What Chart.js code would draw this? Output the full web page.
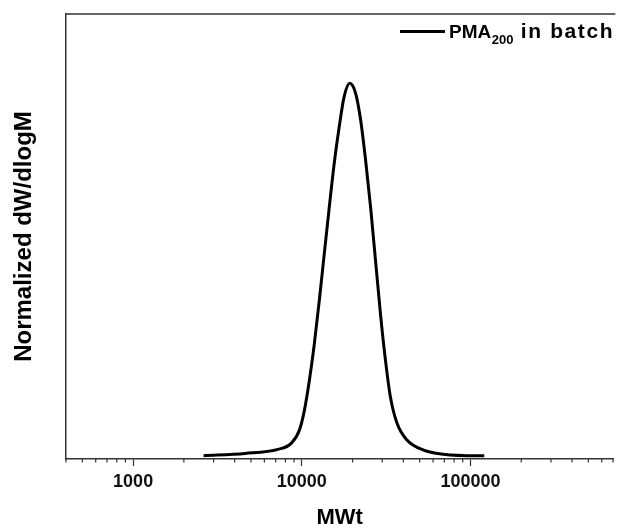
<!DOCTYPE html>
<html>
<head>
<meta charset="utf-8">
<script src="https://cdn.jsdelivr.net/npm/chart.js@4.4.1/dist/chart.umd.min.js"></script>
<style>
	html, body { margin: 0; padding: 0; background: #fff; overflow: hidden; }
	#wrap { width: 618px; height: 528px; }
</style>
</head>
<body>
<div id="wrap"><canvas id="chart"></canvas></div>
<script>
// molecular weight (x) and normalized dW/dlogM (y)
const mwt = [2617, 4603, 7228, 8652, 9688, 10376, 11100, 11880, 12710, 13600, 14560, 15570, 16670, 17830, 19230, 20850, 22320, 23890, 25570, 27360, 29270, 31320, 33510, 36700, 42030, 52760, 69070, 108400, 120700];
const dwdlogm = [0.000, 0.006, 0.017, 0.033, 0.069, 0.123, 0.203, 0.302, 0.418, 0.543, 0.668, 0.785, 0.883, 0.964, 1.000, 0.973, 0.902, 0.794, 0.668, 0.524, 0.381, 0.257, 0.158, 0.087, 0.042, 0.015, 0.004, 0.000, 0.000];

const majorTicks = [1000, 10000, 100000];
const minorTicks = [400, 500, 600, 700, 800, 900, 2000, 3000, 4000, 5000, 6000, 7000, 8000, 9000, 20000, 30000, 40000, 50000, 60000, 70000, 80000, 90000, 200000, 300000, 400000, 500000, 600000, 700000];

const legendMain = "PMA";
const legendSub = "200";
const legendRest = " in batch";
const xTitle = "MWt";
const yTitle = "Normalized dW/dlogM";

const frameColor = "#333";
const fontFamily = "'Liberation Sans', Arial, sans-serif";

// top frame line, short minor ticks and the legend
const extras = {
	id: "extras",
	afterDraw(chart) {
		const { ctx, chartArea, scales } = chart;
		ctx.save();
		ctx.strokeStyle = frameColor;
		ctx.lineWidth = 1.5;
		ctx.beginPath();
		ctx.moveTo(chartArea.left - 0.75, chartArea.top);
		ctx.lineTo(chartArea.right + 2, chartArea.top);
		ctx.stroke();

		ctx.lineWidth = 1.2;
		const y0 = scales.x.top;
		minorTicks.forEach((v) => {
			const x = scales.x.getPixelForValue(v);
			ctx.beginPath();
			ctx.moveTo(x, y0);
			ctx.lineTo(x, y0 + 3.5);
			ctx.stroke();
		});

		// legend
		ctx.strokeStyle = "#000";
		ctx.lineWidth = 3;
		ctx.beginPath();
		ctx.moveTo(400, 31.5);
		ctx.lineTo(445, 31.5);
		ctx.stroke();

		ctx.fillStyle = "#000";
		ctx.textBaseline = "alphabetic";
		ctx.textAlign = "left";
		ctx.font = "bold 19px " + fontFamily;
		ctx.fillText(legendMain, 449, 37.5);
		let x = 449 + ctx.measureText(legendMain).width;
		ctx.font = "bold 13px " + fontFamily;
		ctx.fillText(legendSub, x + 0.5, 43.5);
		x += ctx.measureText(legendSub).width + 0.5;
		ctx.font = "bold 21px " + fontFamily;
		ctx.letterSpacing = "1.6px";
		ctx.fillText(legendRest, x, 37.5);
		ctx.restore();
	},
};

new Chart(document.getElementById("chart"), {
	type: "line",
	data: {
		datasets: [
			{
				label: legendMain + legendSub + legendRest,
				data: mwt.map((m, i) => ({ x: m, y: dwdlogm[i] })),
				borderColor: "#000",
				borderWidth: 3,
				pointRadius: 0,
				fill: false,
				cubicInterpolationMode: "monotone",
			},
		],
	},
	options: {
		animation: false,
		responsive: true,
		maintainAspectRatio: false,
		layout: { padding: { top: 14, right: 0, left: 0, bottom: 0 } },
		plugins: {
			legend: { display: false },
			tooltip: { enabled: false },
		},
		scales: {
			x: {
				type: "logarithmic",
				min: 400,
				max: 703000,
				afterBuildTicks: (scale) => {
					scale.ticks = majorTicks
						.concat(minorTicks)
						.sort((a, b) => a - b)
						.map((v) => ({ value: v, major: majorTicks.includes(v) }));
				},
				afterFit: (scale) => {
					scale.height = 69;
				},
				border: { display: true, color: frameColor, width: 1.5 },
				grid: {
					drawOnChartArea: false,
					drawTicks: true,
					tickLength: 7,
					tickWidth: 1.2,
					tickColor: (c) =>
						c.tick && majorTicks.includes(c.tick.value)
							? frameColor
							: "rgba(0,0,0,0)",
				},
				ticks: {
					autoSkip: false,
					maxRotation: 0,
					padding: 5,
					color: "#111",
					font: { family: fontFamily, size: 18, weight: "bold" },
					callback: (v) => (majorTicks.includes(v) ? String(v) : ""),
				},
				title: {
					display: true,
					text: xTitle,
					color: "#000",
					padding: { top: 0, bottom: -1 },
					font: { family: fontFamily, size: 22, weight: "bold", lineHeight: 1 },
				},
			},
			y: {
				min: -0.009,
				max: 1.186,
				afterFit: (scale) => {
					scale.width = 66;
				},
				border: { display: true, color: frameColor, width: 1.5 },
				grid: { display: false, drawTicks: false },
				ticks: { display: false },
				title: {
					display: true,
					text: yTitle,
					color: "#000",
					padding: { top: 12, bottom: 0 },
					font: { family: fontFamily, size: 24, weight: "bold", lineHeight: 1 },
				},
			},
		},
	},
	plugins: [extras],
});
</script>
</body>
</html>
